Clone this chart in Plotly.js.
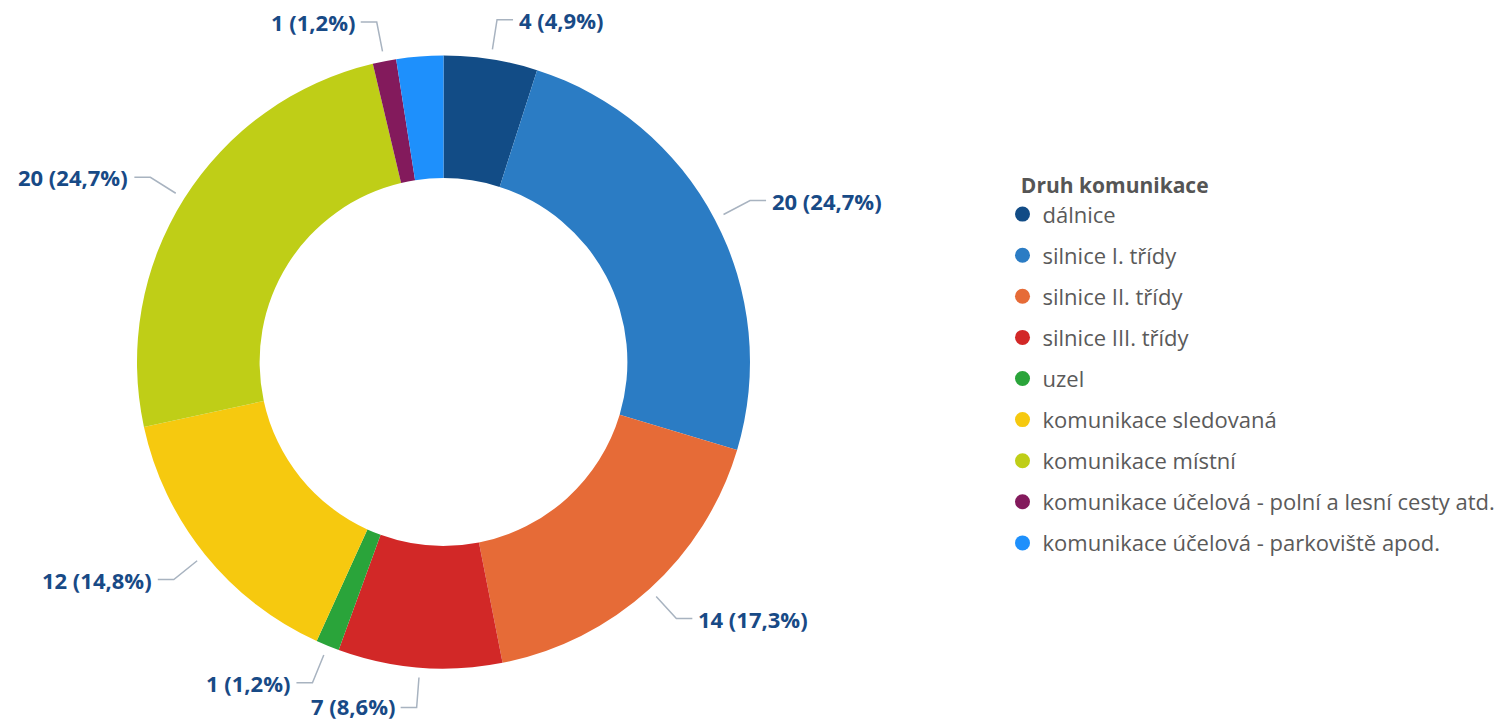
<!DOCTYPE html>
<html><head><meta charset="utf-8">
<script src="https://cdn.plot.ly/plotly-3.0.1.min.js"></script>
<style>html,body{margin:0;padding:0;background:#fff}#chart{width:1503px;height:721px}</style>
</head><body><div id="chart"></div>
<script>
const categories = [
  "dálnice",
  "silnice I. třídy",
  "silnice II. třídy",
  "silnice III. třídy",
  "uzel",
  "komunikace sledovaná",
  "komunikace místní",
  "komunikace účelová - polní a lesní cesty atd.",
  "komunikace účelová - parkoviště apod."
];
const values = [4, 20, 14, 7, 1, 12, 20, 1, 2];
const colors = ["#124C86", "#2B7CC4", "#E66B37", "#D22827", "#2AA43A", "#F6C90F", "#BFCE17", "#831A5C", "#1E90FC"];
const showLabel = [true, true, true, true, true, true, true, true, false];
const legendTitle = "Druh komunikace";

const W = 1503, H = 721;
const total = values.reduce((a, b) => a + b, 0);
const labelTexts = values.map(v => v + " (" + (v / total * 100).toFixed(1).replace(".", ",") + "%)");

const pieTrace = {
  type: "pie",
  values: values,
  labels: categories,
  marker: {colors: colors, line: {width: 0}},
  hole: 0.6,
  sort: false,
  direction: "clockwise",
  rotation: 0,
  textinfo: "none",
  showlegend: false,
  hoverinfo: "label+value+percent",
  domain: {x: [0.09115, 0.49900], y: [0.0728, 0.9230]}
};

const legendTraces = categories.map((c, i) => ({
  type: "scatter", mode: "markers",
  x: [null], y: [null],
  name: c,
  legendgroup: "g" + i,
  marker: {color: colors[i], size: 15, symbol: "circle"},
  hoverinfo: "skip",
  showlegend: true
}));

const layout = {
  width: W, height: H,
  margin: {l: 0, r: 0, t: 0, b: 0},
  paper_bgcolor: "#ffffff",
  plot_bgcolor: "#ffffff",
  font: {family: "Open Sans, Noto Sans, sans-serif", color: "#595959"},
  xaxis: {visible: false, domain: [0.7, 0.71]},
  yaxis: {visible: false, domain: [0.5, 0.51]},
  showlegend: true,
  legend: {
    x: 0.667, xanchor: "left",
    y: 1 - 166 / H, yanchor: "top",
    traceorder: "grouped",
    tracegroupgap: 9.5,
    itemwidth: 30,
    font: {size: 22, color: "#5a5a5a", family: "Open Sans, sans-serif"},
    title: {text: "<b>\u00a0\u00a0\u00a0" + legendTitle + "</b>", font: {size: 21, color: "#555555", family: "Open Sans, sans-serif"}},
    bgcolor: "rgba(0,0,0,0)"
  }
};

Plotly.newPlot("chart", [pieTrace].concat(legendTraces), layout, {staticPlot: true}).then(gd => {
  const sz = gd._fullLayout._size;
  const cd = gd.calcdata.find(c => c[0].trace.type === "pie");
  let cx, cy, r;
  if (cd && cd[0].cx !== undefined && cd[0].r !== undefined) {
    cx = cd[0].cx; cy = cd[0].cy; r = cd[0].r;
  } else {
    const d = pieTrace.domain;
    cx = sz.l + sz.w * (d.x[0] + d.x[1]) / 2;
    cy = sz.t + sz.h * (1 - (d.y[0] + d.y[1]) / 2);
    r = Math.min(sz.w * (d.x[1] - d.x[0]), sz.h * (d.y[1] - d.y[0])) / 2;
  }
  const toPX = px => (px - sz.l) / sz.w;
  const toPY = py => 1 - (py - sz.t) / sz.h;
  const shapes = [], annotations = [];
  const fontSize = 22;
  const halfBox = fontSize * 0.7;
  let cum = 0;
  values.forEach((v, i) => {
    let ux, uy;
    if (cd && cd[i] && cd[i].pxmid) {
      const m = cd[i].pxmid, len = Math.hypot(m[0], m[1]);
      ux = m[0] / len; uy = m[1] / len;
    } else {
      const a = (cum + v / 2) / total * 2 * Math.PI;
      ux = Math.sin(a); uy = -Math.cos(a);
    }
    cum += v;
    if (!showLabel[i]) return;
    const p1 = [cx + ux * (r + 10), cy + uy * (r + 10)];
    const p2 = [cx + ux * (r + 40), cy + uy * (r + 40)];
    const side = ux >= 0 ? 1 : -1;
    const p3 = [p2[0] + side * 16, p2[1]];
    shapes.push({
      type: "path", xref: "paper", yref: "paper",
      path: "M " + toPX(p1[0]) + "," + toPY(p1[1]) + " L " + toPX(p2[0]) + "," + toPY(p2[1]) + " L " + toPX(p3[0]) + "," + toPY(p3[1]),
      line: {color: "#A8B3C0", width: 1.5}
    });
    const ty = Math.min(Math.max(p3[1], halfBox), H - halfBox);
    annotations.push({
      xref: "paper", yref: "paper",
      x: toPX(p3[0] + side * 5), y: toPY(ty),
      xanchor: side > 0 ? "left" : "right", yanchor: "middle",
      text: "<b>" + labelTexts[i] + "</b>",
      showarrow: false,
      borderpad: 0,
      font: {size: fontSize, color: "#184A86", family: "Open Sans, sans-serif"}
    });
  });
  return Plotly.relayout(gd, {shapes: shapes, annotations: annotations});
});
</script>
</body></html>
